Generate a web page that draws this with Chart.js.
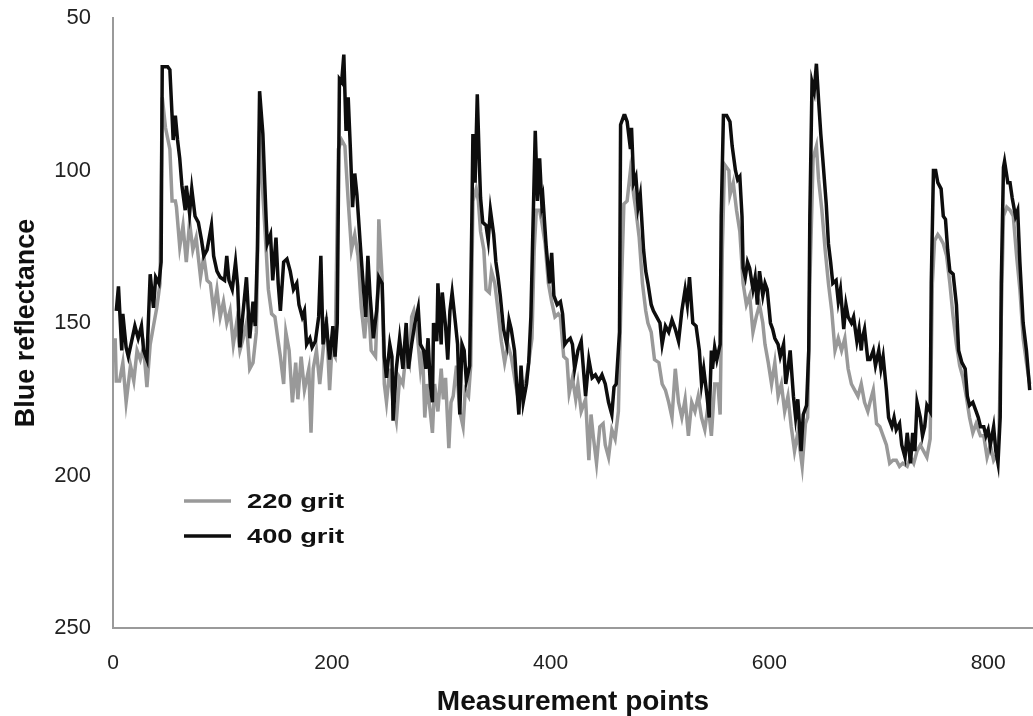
<!DOCTYPE html>
<html>
<head>
<meta charset="utf-8">
<title>Blue reflectance</title>
<script src="https://cdn.jsdelivr.net/npm/chart.js@4.4.1/dist/chart.umd.min.js"></script>
<style>
    html, body { margin: 0; padding: 0; background: #fff; }
    #wrap { width: 1033px; height: 716px; position: relative; }
</style>
</head>
<body>
<div id="wrap"><canvas id="reflectanceChart"></canvas></div>
<script>
const grit220X = [2, 3, 6, 9, 12, 16, 19, 22, 25, 28, 31, 34, 37, 40, 43, 45, 48, 52, 54, 57, 58, 61, 64, 67, 70, 73, 76, 80, 83, 86, 89, 92, 95, 98, 101, 104, 107, 110, 113, 116, 119, 122, 125, 128, 131, 134, 137, 140, 142, 145, 148, 151, 153, 156, 158, 161, 164, 167, 169, 172, 175, 179, 181, 183, 186, 189, 192, 195, 198, 200, 203, 206, 209, 212, 215, 218, 221, 224, 227, 230, 233, 236, 240, 242, 243, 246, 248, 250, 253, 256, 259, 262, 265, 268, 271, 273, 275, 278, 281, 283, 285, 287, 290, 292, 294, 297, 300, 302, 304, 307, 309, 311, 314, 317, 320, 322, 325, 327, 329, 332, 334, 336, 339, 341, 344, 346, 349, 352, 355, 358, 361, 364, 368, 371, 374, 377, 380, 383, 385, 387, 390, 392, 395, 398, 401, 404, 407, 409, 412, 415, 417, 420, 423, 425, 428, 432, 435, 437, 439, 442, 445, 448, 450, 453, 456, 459, 462, 464, 467, 470, 473, 476, 478, 481, 484, 487, 489, 492, 495, 499, 502, 505, 508, 511, 514, 517, 520, 523, 526, 529, 532, 535, 538, 541, 544, 547, 550, 553, 555, 557, 559, 563, 564, 567, 570, 573, 576, 579, 582, 585, 588, 591, 594, 596, 599, 602, 605, 608, 611, 614, 617, 620, 623, 626, 630, 633, 635, 637, 640, 643, 645, 648, 651, 654, 657, 660, 663, 666, 669, 672, 675, 678, 681, 684, 687, 690, 692, 695, 698, 701, 704, 707, 710, 713, 716, 719, 722, 726, 729, 732, 735, 738, 741, 744, 747, 749, 751, 754, 756, 759, 762, 765, 768, 771, 774, 777, 780, 783, 786, 789, 793, 796, 799, 802, 805, 808, 810, 812, 814, 817, 820, 823, 826, 829, 832, 835, 838];
const grit220Y = [155, 169, 169, 163, 176, 164, 169, 159, 162, 158, 171, 157, 151, 145, 137, 76, 86, 93, 110, 110, 112, 125, 118, 130, 117, 126, 122, 135, 128, 136, 137, 146, 139, 148, 143, 150, 146, 157, 150, 159, 155, 150, 165, 163, 153, 87, 108, 126, 139, 147, 148, 156, 161, 170, 153, 159, 176, 163, 175, 161, 172, 165, 186, 165, 159, 170, 159, 148, 172, 159, 161, 93, 90, 92, 110, 126, 121, 128, 145, 155, 141, 159, 161, 139, 116, 135, 170, 176, 165, 176, 182, 168, 170, 159, 163, 148, 146, 153, 165, 159, 181, 170, 179, 186, 170, 179, 165, 175, 168, 191, 176, 174, 164, 179, 184, 172, 174, 164, 110, 106, 110, 120, 126, 139, 140, 133, 137, 146, 156, 163, 157, 161, 170, 176, 169, 170, 163, 155, 126, 113, 113, 117, 124, 137, 143, 148, 147, 148, 161, 162, 173, 168, 175, 170, 179, 175, 195, 180, 187, 196, 184, 183, 190, 194, 185, 188, 179, 148, 111, 110, 100, 108, 113, 122, 137, 146, 150, 153, 162, 163, 170, 172, 176, 181, 165, 176, 181, 175, 187, 176, 179, 174, 181, 185, 177, 187, 170, 170, 180, 126, 98, 100, 108, 104, 113, 120, 137, 144, 141, 153, 148, 144, 150, 157, 163, 170, 163, 174, 170, 179, 174, 184, 192, 186, 197, 183, 181, 137, 96, 92, 103, 113, 126, 137, 146, 159, 155, 159, 155, 165, 170, 172, 174, 170, 176, 179, 176, 172, 183, 184, 187, 190, 196, 195, 195, 197, 196, 197, 194, 196, 192, 190, 192, 194, 188, 137, 123, 121, 122, 124, 128, 137, 148, 157, 164, 168, 174, 181, 186, 183, 187, 187, 194, 190, 195, 193, 186, 148, 115, 112, 113, 115, 128, 139, 155, 163, 170];

const grit400X = [3, 5, 8, 9, 12, 14, 17, 20, 23, 26, 28, 31, 34, 37, 39, 42, 44, 45, 50, 52, 54, 55, 57, 59, 61, 63, 66, 67, 70, 72, 75, 78, 81, 83, 86, 90, 92, 95, 98, 102, 104, 106, 109, 112, 114, 116, 119, 122, 125, 128, 130, 132, 134, 137, 140, 141, 144, 146, 149, 151, 153, 156, 159, 162, 165, 168, 170, 173, 175, 177, 180, 182, 185, 188, 190, 192, 195, 198, 201, 203, 205, 207, 209, 211, 213, 215, 217, 219, 221, 223, 226, 229, 231, 233, 235, 238, 241, 243, 246, 248, 250, 253, 255, 256, 259, 262, 265, 268, 270, 273, 276, 279, 281, 284, 286, 288, 290, 292, 293, 296, 297, 300, 301, 304, 306, 308, 310, 313, 315, 317, 319, 321, 323, 326, 328, 329, 331, 333, 335, 336, 338, 341, 343, 345, 348, 350, 352, 354, 357, 360, 362, 364, 367, 369, 371, 373, 375, 378, 380, 382, 384, 386, 388, 390, 392, 393, 396, 399, 401, 403, 406, 409, 411, 413, 415, 418, 420, 422, 425, 428, 430, 432, 435, 438, 441, 444, 447, 450, 453, 456, 458, 460, 463, 464, 467, 468, 470, 473, 474, 476, 478, 480, 482, 485, 487, 489, 492, 494, 497, 500, 502, 505, 508, 511, 514, 517, 520, 523, 525, 527, 530, 533, 536, 538, 540, 543, 545, 547, 548, 550, 552, 555, 556, 558, 561, 564, 566, 569, 571, 573, 575, 576, 578, 580, 582, 585, 587, 589, 591, 594, 596, 598, 601, 603, 605, 608, 610, 613, 615, 617, 619, 622, 624, 626, 629, 631, 634, 636, 637, 639, 641, 643, 645, 647, 649, 652, 654, 656, 658, 661, 663, 665, 668, 670, 672, 675, 677, 680, 682, 684, 685, 687, 690, 692, 695, 697, 700, 702, 704, 707, 709, 712, 714, 716, 719, 721, 724, 726, 729, 731, 733, 735, 738, 740, 742, 744, 747, 748, 750, 752, 754, 757, 759, 761, 763, 765, 768, 771, 773, 776, 779, 781, 783, 786, 789, 791, 793, 796, 798, 800, 802, 805, 807, 809, 811, 812, 814, 815, 818, 820, 822, 825, 827, 829, 832, 835, 838];
const grit400Y = [146, 138, 159, 147, 158, 161, 156, 151, 155, 151, 159, 162, 134, 145, 135, 137, 130, 66, 66, 67, 82, 90, 82, 90, 96, 105, 113, 105, 114, 106, 115, 117, 123, 128, 126, 118, 128, 133, 135, 136, 128, 136, 139, 130, 138, 158, 146, 135, 155, 143, 151, 126, 74, 88, 116, 124, 121, 136, 122, 137, 146, 130, 129, 133, 139, 137, 144, 148, 146, 157, 155, 158, 156, 148, 128, 157, 150, 162, 151, 161, 150, 70, 71, 62, 87, 76, 93, 112, 101, 108, 124, 139, 148, 128, 141, 155, 146, 135, 137, 161, 168, 157, 161, 182, 165, 155, 165, 150, 165, 157, 150, 145, 157, 159, 165, 155, 170, 176, 150, 156, 137, 157, 140, 151, 162, 146, 140, 150, 157, 180, 157, 159, 169, 164, 117, 88, 104, 75, 99, 109, 117, 118, 123, 113, 121, 130, 135, 141, 152, 157, 149, 152, 159, 170, 180, 164, 176, 170, 163, 148, 117, 87, 110, 96, 111, 109, 125, 137, 127, 141, 144, 143, 147, 157, 156, 155, 157, 165, 159, 156, 165, 174, 162, 168, 167, 169, 167, 170, 176, 180, 171, 170, 153, 85, 82, 82, 84, 93, 86, 104, 102, 112, 108, 126, 133, 137, 144, 146, 148, 150, 157, 151, 153, 149, 152, 156, 146, 139, 144, 135, 150, 151, 159, 170, 165, 174, 181, 159, 165, 158, 162, 157, 115, 82, 82, 84, 92, 100, 103, 102, 115, 132, 135, 130, 132, 139, 135, 144, 133, 141, 137, 139, 150, 152, 155, 157, 161, 157, 170, 165, 159, 174, 181, 175, 192, 180, 177, 159, 115, 71, 74, 65, 77, 88, 97, 111, 124, 130, 137, 136, 143, 139, 152, 144, 148, 150, 148, 156, 152, 159, 155, 152, 162, 162, 159, 164, 159, 165, 161, 172, 181, 184, 181, 185, 183, 190, 194, 186, 196, 186, 192, 176, 181, 187, 184, 177, 179, 137, 100, 100, 104, 106, 115, 116, 126, 133, 134, 144, 159, 163, 165, 174, 177, 176, 179, 181, 184, 184, 187, 185, 190, 184, 192, 196, 181, 137, 99, 97, 104, 104, 109, 115, 113, 130, 150, 159, 172];

const seriesLabels = ['220 grit', '400 grit'];
const seriesColors = ['#999999', '#0d0d0d'];
const xTicks = [0, 200, 400, 600, 800];
const yTicks = [50, 100, 150, 200, 250];

const fontFamily = '"Liberation Sans", Arial, Helvetica, sans-serif';

function toPoints(xs, ys) {
    return xs.map((x, i) => ({ x: x, y: ys[i] }));
}

// Legend drawn inside the plot, lower left (the original lettering is wide, so stretch it a bit)
const insideLegend = {
    id: 'insideLegend',
    afterDatasetsDraw(chart) {
        const ctx = chart.ctx;
        const area = chart.chartArea;
        const x0 = area.left + 71;
        const y0 = area.top + 483;
        chart.data.datasets.forEach((ds, i) => {
            const y = y0 + i * 35;
            ctx.save();
            ctx.strokeStyle = ds.borderColor;
            ctx.lineWidth = 3.5;
            ctx.beginPath();
            ctx.moveTo(x0, y);
            ctx.lineTo(x0 + 47, y);
            ctx.stroke();
            ctx.fillStyle = '#111';
            ctx.font = 'bold 21px ' + fontFamily;
            ctx.textBaseline = 'middle';
            ctx.translate(x0 + 63, y + 1);
            ctx.scale(1.3, 1);
            ctx.fillText(ds.label, 0, 0);
            ctx.restore();
        });
    }
};

const ctx = document.getElementById('reflectanceChart');

new Chart(ctx, {
    type: 'line',
    data: {
        datasets: [
            {
                label: seriesLabels[0],
                data: toPoints(grit220X, grit220Y),
                borderColor: seriesColors[0],
                borderWidth: 3.5,
                pointRadius: 0,
                tension: 0,
                order: 1
            },
            {
                label: seriesLabels[1],
                data: toPoints(grit400X, grit400Y),
                borderColor: seriesColors[1],
                borderWidth: 3.5,
                pointRadius: 0,
                tension: 0,
                order: 0
            }
        ]
    },
    options: {
        responsive: true,
        maintainAspectRatio: false,
        animation: false,
        devicePixelRatio: 1,
        layout: {
            padding: { top: 18, right: 0, left: 0, bottom: 0 }
        },
        plugins: {
            legend: { display: false },
            tooltip: { enabled: false }
        },
        scales: {
            x: {
                type: 'linear',
                min: 0,
                max: 841,
                afterBuildTicks: (scale) => {
                    scale.ticks = xTicks.map(v => ({ value: v }));
                },
                afterFit: (scale) => {
                    scale.height = 88;
                },
                grid: { display: false, drawTicks: false },
                border: { display: true, color: '#9a9a9a', width: 2 },
                ticks: {
                    color: '#222',
                    padding: 23,
                    maxRotation: 0,
                    font: { family: fontFamily, size: 21 }
                },
                title: {
                    display: true,
                    text: 'Measurement points',
                    color: '#111',
                    padding: { top: 0, bottom: 0 },
                    font: { family: fontFamily, size: 28, weight: 'bold', lineHeight: 1.0 }
                }
            },
            y: {
                type: 'linear',
                reverse: true,
                min: 50,
                max: 250,
                afterBuildTicks: (scale) => {
                    scale.ticks = yTicks.map(v => ({ value: v }));
                },
                afterFit: (scale) => {
                    scale.width = 113;
                    // tick padding is horizontal here; do not let it push the plot down
                    scale.paddingTop = 0;
                    scale.paddingBottom = 0;
                },
                grid: { display: false, drawTicks: false },
                border: { display: true, color: '#9a9a9a', width: 2 },
                ticks: {
                    color: '#222',
                    padding: 22,
                    font: { family: fontFamily, size: 22 }
                },
                title: {
                    display: true,
                    text: 'Blue reflectance',
                    color: '#111',
                    padding: { top: 10, bottom: 0 },
                    font: { family: fontFamily, size: 27, weight: 'bold' }
                }
            }
        }
    },
    plugins: [insideLegend]
});
</script>
</body>
</html>
